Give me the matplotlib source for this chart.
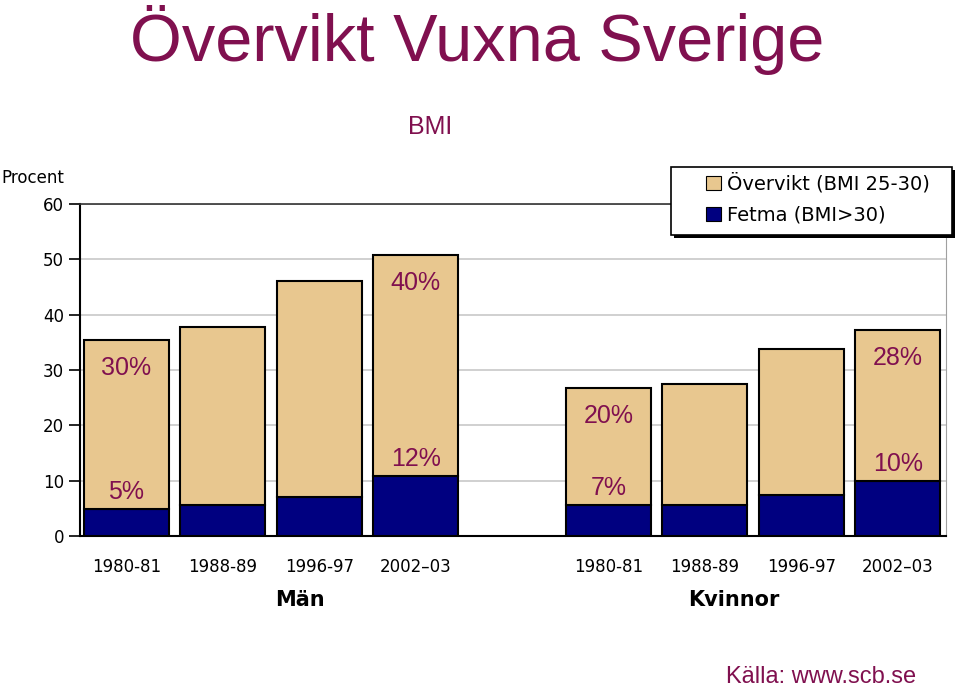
import matplotlib.pyplot as plt
import matplotlib.patches as mpatches
import numpy as np

periods = ["1980-81", "1988-89", "1996-97", "2002\u201303"]
groups = ["Män", "Kvinnor"]

# total share overweight or obese (%)
total_men = [35.4, 37.8, 46.1, 50.8]
total_women = [26.7, 27.5, 33.8, 37.2]
# obese share (BMI > 30)
fetma_men = [4.9, 5.6, 7.0, 10.8]
fetma_women = [5.6, 5.6, 7.4, 9.9]

# annotated shares: (bar index, which part, text)
notes = [
    (0, "top", "30%"), (0, "low", "5%"),
    (3, "top", "40%"), (3, "low", "12%"),
    (4, "top", "20%"), (4, "low", "7%"),
    (7, "top", "28%"), (7, "low", "10%"),
]

tan = "#E8C78F"
navy = "#000080"
wine = "#80104F"

x = np.array([0, 1, 2, 3, 5, 6, 7, 8])
fetma = np.array(fetma_men + fetma_women)
total = np.array(total_men + total_women)
overvikt = total - fetma

fig = plt.figure(figsize=(9.6, 6.89), dpi=100)
ax = fig.add_axes([0.0833, 0.2221, 0.9021, 0.4819])

ax.bar(x, fetma, width=0.88, color=navy, edgecolor="black", linewidth=1.5,
       label="Fetma (BMI>30)", zorder=3)
ax.bar(x, overvikt, bottom=fetma, width=0.88, color=tan, edgecolor="black",
       linewidth=1.5, label="Övervikt (BMI 25-30)", zorder=3)

for i, part, txt in notes:
    if part == "top":
        y = total[i] - 5.0
    else:
        y = fetma[i] + 3.1
    ax.text(x[i], y, txt, ha="center", va="center", fontsize=18, color=wine,
            family="Liberation Sans", zorder=4)

ax.set_xlim(-0.48, 8.5)
ax.set_ylim(0, 60)
ax.set_yticks(range(0, 61, 10))
ax.set_xticks(x)
ax.set_xticklabels(periods * 2, fontsize=12)
ax.tick_params(axis="x", length=0, pad=16)
ax.tick_params(axis="y", labelsize=12, length=8, width=1.2, direction="out")
ax.yaxis.grid(True, color="#C8C8C8", linewidth=1.2, zorder=0)
ax.set_axisbelow(True)

for side in ["left", "bottom"]:
    ax.spines[side].set_color("black")
    ax.spines[side].set_linewidth(1.5)
ax.spines["top"].set_color("#333333")
ax.spines["top"].set_linewidth(1.2)
ax.spines["right"].set_color("#A0A0A0")

fig.text(0.001, 0.742, "Procent", fontsize=12, ha="left", va="center")

ax.text(1.8, -11.5, groups[0], ha="center", va="center", fontsize=15,
        fontweight="bold", family=["Liberation Sans Narrow", "DejaVu Sans"])
ax.text(6.3, -11.5, groups[1], ha="center", va="center", fontsize=15,
        fontweight="bold", family=["Liberation Sans Narrow", "DejaVu Sans"])

# legend box with a hard black shadow, drawn in figure pixels
W, H = 960, 689
shadow = mpatches.Rectangle((674 / W, 1 - 238 / H), 281 / W, 68 / H,
                            transform=fig.transFigure, facecolor="black",
                            edgecolor="none", zorder=5)
frame = mpatches.Rectangle((671 / W, 1 - 235 / H), 281 / W, 68 / H,
                           transform=fig.transFigure, facecolor="white",
                           edgecolor="black", linewidth=1.2, zorder=6)
fig.patches.extend([shadow, frame])

handles, labels = ax.get_legend_handles_labels()
leg = fig.legend(handles[::-1], labels[::-1], loc="upper left",
                 bbox_to_anchor=(706 / W, 1 - 173 / H), fontsize=14,
                 frameon=False, handlelength=0.75, handleheight=0.75,
                 handletextpad=0.35, borderpad=0, borderaxespad=0,
                 labelspacing=0.62)
leg.set_zorder(7)
for h in leg.legend_handles:
    h.set_linewidth(0.8)

fig.text(0.497, 0.942, "Övervikt Vuxna Sverige", ha="center", va="center",
         fontsize=48, color=wine, family="Liberation Sans")
fig.text(0.448, 0.815, "BMI", ha="center", va="center", fontsize=18,
         color=wine, family="Liberation Sans")
fig.text(0.855, 0.018, "Källa: www.scb.se", ha="center", va="center",
         fontsize=17, color=wine, family="Liberation Sans")

fig.savefig("out.png", dpi=100)
